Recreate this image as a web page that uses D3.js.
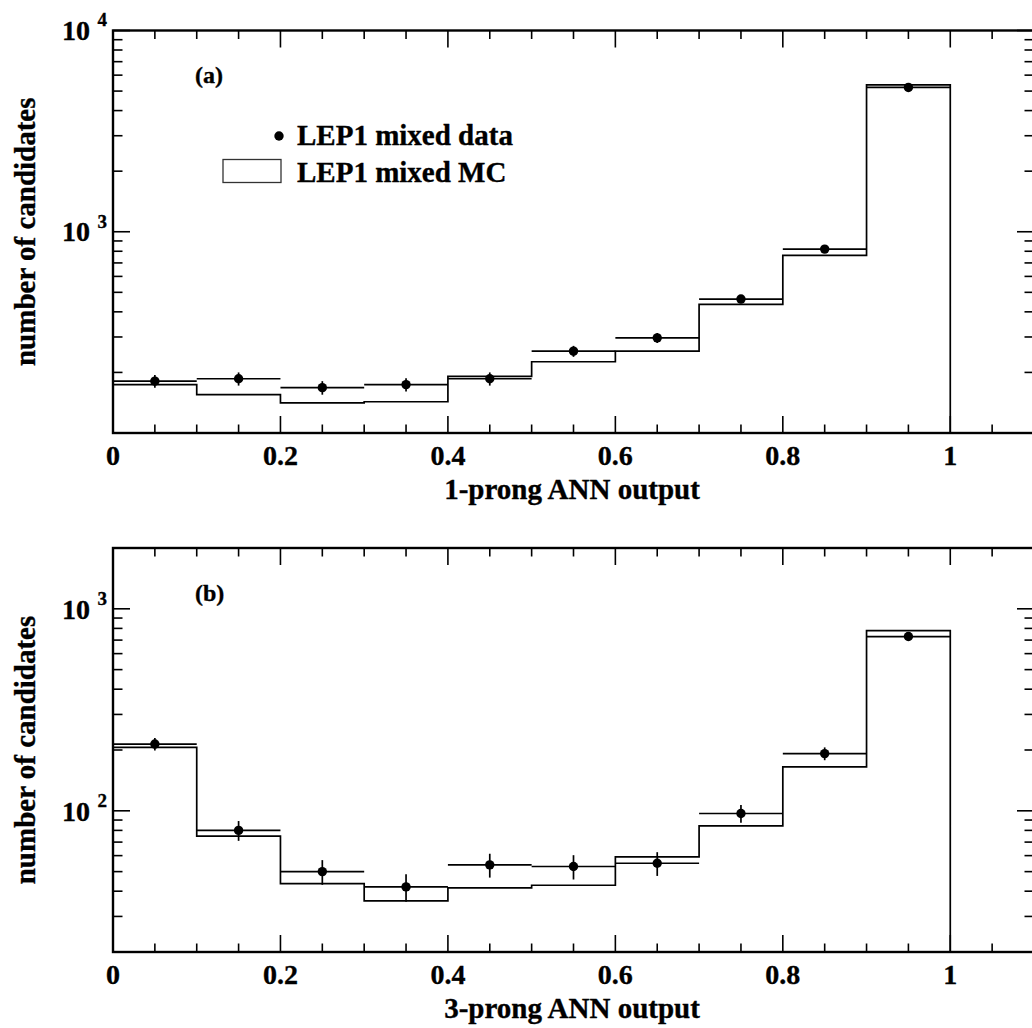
<!DOCTYPE html>
<html><head><meta charset="utf-8">
<script src="https://cdn.jsdelivr.net/npm/d3@7"></script>
<style>body{margin:0;background:#fff}svg{display:block}text{stroke:#000;stroke-width:0.35px}</style>
</head><body>
<svg id="c" width="1032" height="1028"></svg>
<script>
// ---- data ----
const binEdges = [0, 0.1, 0.2, 0.3, 0.4, 0.5, 0.6, 0.7, 0.8, 0.9, 1.0];
const xTickValues = [0, 0.2, 0.4, 0.6, 0.8, 1];
const xTickLabels = ["0", "0.2", "0.4", "0.6", "0.8", "1"];

// panel (a): 1-prong
const dataA = [181, 186, 168, 174, 186, 255, 297, 463, 820, 5213];
const errA  = [13, 14, 13, 13, 14, 16, 17, 22, 29, 72];
const mcA   = [174, 155, 141, 143, 191, 226, 255, 436, 763, 5364];
const yDomainA = [100, 10000];
const yLabelExpA = [3, 4];

// panel (b): 3-prong
const dataB = [214, 80, 50, 42, 54, 53, 55, 97, 192, 729];
const errB  = [15, 9, 7, 6.5, 7.3, 7.3, 7.4, 9.8, 14, 27];
const mcB   = [206, 75, 43.6, 35.8, 41.5, 42.8, 59.2, 84.3, 165, 780];
const yDomainB = [20, 2000];
const yLabelExpB = [2, 3];

const panelTags = ["(a)", "(b)"];
const xTitles = ["1-prong ANN output", "3-prong ANN output"];
const yTitle = "number of candidates";
const legendLabels = ["LEP1 mixed data", "LEP1 mixed MC"];

// ---- layout ----
const FONT = "'Liberation Serif','Times New Roman',Times,serif";
const svg = d3.select("#c");
svg.append("rect").attr("width", 1032).attr("height", 1028).attr("fill", "#fff").style("stroke", "none");

const panels = [
  {data: dataA, err: errA, mc: mcA, dom: yDomainA, exps: yLabelExpA, top: 30.5, bottom: 433,
   tag: panelTags[0], xt: xTitles[0], legend: true},
  {data: dataB, err: errB, mc: mcB, dom: yDomainB, exps: yLabelExpB, top: 548, bottom: 952,
   tag: panelTags[1], xt: xTitles[1], legend: false}
];

const x = d3.scaleLinear().domain([0, 1.1]).range([113, 1034]);

panels.forEach(p => {
  const y = d3.scaleLog().domain(p.dom).range([p.bottom, p.top]);
  const g = svg.append("g");
  const x0 = x.range()[0], x1 = x.range()[1];

  // x ticks (bottom and top, inward)
  x.ticks(22).forEach(v => {
    const major = Math.abs(v / 0.2 - Math.round(v / 0.2)) < 1e-6;
    const len = major ? 17 : 8.5;
    g.append("line").attr("x1", x(v)).attr("x2", x(v)).attr("y1", p.bottom).attr("y2", p.bottom - len)
      .attr("stroke", "#000").attr("stroke-width", 1.6);
    g.append("line").attr("x1", x(v)).attr("x2", x(v)).attr("y1", p.top).attr("y2", p.top + len)
      .attr("stroke", "#000").attr("stroke-width", 1.6);
  });
  // y ticks (left and right, inward)
  y.ticks().forEach(v => {
    const lg = Math.log10(v);
    const major = Math.abs(lg - Math.round(lg)) < 1e-6;
    const len = major ? 17 : 9.5;
    g.append("line").attr("x1", x0).attr("x2", x0 + len).attr("y1", y(v)).attr("y2", y(v))
      .attr("stroke", "#000").attr("stroke-width", 1.6);
    g.append("line").attr("x1", x1).attr("x2", x1 - len).attr("y1", y(v)).attr("y2", y(v))
      .attr("stroke", "#000").attr("stroke-width", 1.6);
  });

  // frame
  g.append("rect").attr("x", x0).attr("y", p.top).attr("width", x1 - x0).attr("height", p.bottom - p.top)
    .attr("fill", "none").attr("stroke", "#000").attr("stroke-width", 2.4);

  // MC step histogram
  let d = `M${x(binEdges[0])},${y.range()[0]}`;
  p.mc.forEach((v, i) => {
    d += `V${y(v)}H${x(binEdges[i + 1])}`;
  });
  d += `V${y.range()[0]}`;
  g.append("path").attr("d", d).attr("fill", "none").attr("stroke", "#000").attr("stroke-width", 1.7);

  // data: horizontal bin bars, error bars, points
  p.data.forEach((v, i) => {
    const xc = x((binEdges[i] + binEdges[i + 1]) / 2);
    g.append("line").attr("x1", x(binEdges[i])).attr("x2", x(binEdges[i + 1]))
      .attr("y1", y(v)).attr("y2", y(v)).attr("stroke", "#000").attr("stroke-width", 1.7);
    g.append("line").attr("x1", xc).attr("x2", xc)
      .attr("y1", y(v - p.err[i])).attr("y2", y(v + p.err[i])).attr("stroke", "#000").attr("stroke-width", 1.7);
    g.append("circle").attr("cx", xc).attr("cy", y(v)).attr("r", 4.7).attr("fill", "#000");
  });

  // y tick labels 10^n
  p.exps.forEach(e => {
    const yy = y(Math.pow(10, e));
    g.append("text").attr("x", 90).attr("y", yy + 9.7).attr("text-anchor", "end")
      .attr("font-family", FONT).attr("font-weight", "bold").attr("font-size", 28).text("10");
    g.append("text").attr("x", 97.5).attr("y", yy - 4.2)
      .attr("font-family", FONT).attr("font-weight", "bold").attr("font-size", 19).text(String(e));
  });

  // x tick labels
  xTickValues.forEach((v, i) => {
    g.append("text").attr("x", x(v)).attr("y", p.bottom + 31.5).attr("text-anchor", "middle")
      .attr("font-family", FONT).attr("font-weight", "bold").attr("font-size", 28).text(xTickLabels[i]);
  });

  // x title
  g.append("text").attr("x", 572).attr("y", p.bottom + 66).attr("text-anchor", "middle")
    .attr("font-family", FONT).attr("font-weight", "bold").attr("font-size", 29).text(p.xt);

  // y title
  const ym = (p.top + p.bottom) / 2;
  g.append("text").attr("transform", `translate(35,${ym}) rotate(-90)`).attr("text-anchor", "middle")
    .attr("font-family", FONT).attr("font-weight", "bold").attr("font-size", 29).text(yTitle);

  // panel tag
  g.append("text").attr("x", 195).attr("y", p.top + 52.5)
    .attr("font-family", FONT).attr("font-weight", "bold").attr("font-size", 24).text(p.tag);

  // legend
  if (p.legend) {
    g.append("circle").attr("cx", 279).attr("cy", 136).attr("r", 4.7).attr("fill", "#000");
    g.append("text").attr("x", 297).attr("y", 145)
      .attr("font-family", FONT).attr("font-weight", "bold").attr("font-size", 29).text(legendLabels[0]);
    g.append("rect").attr("x", 223).attr("y", 159.5).attr("width", 58).attr("height", 23)
      .attr("fill", "#fff").attr("stroke", "#333").attr("stroke-width", 1.3);
    g.append("text").attr("x", 297).attr("y", 182)
      .attr("font-family", FONT).attr("font-weight", "bold").attr("font-size", 29).text(legendLabels[1]);
  }
});
</script>
</body></html>
